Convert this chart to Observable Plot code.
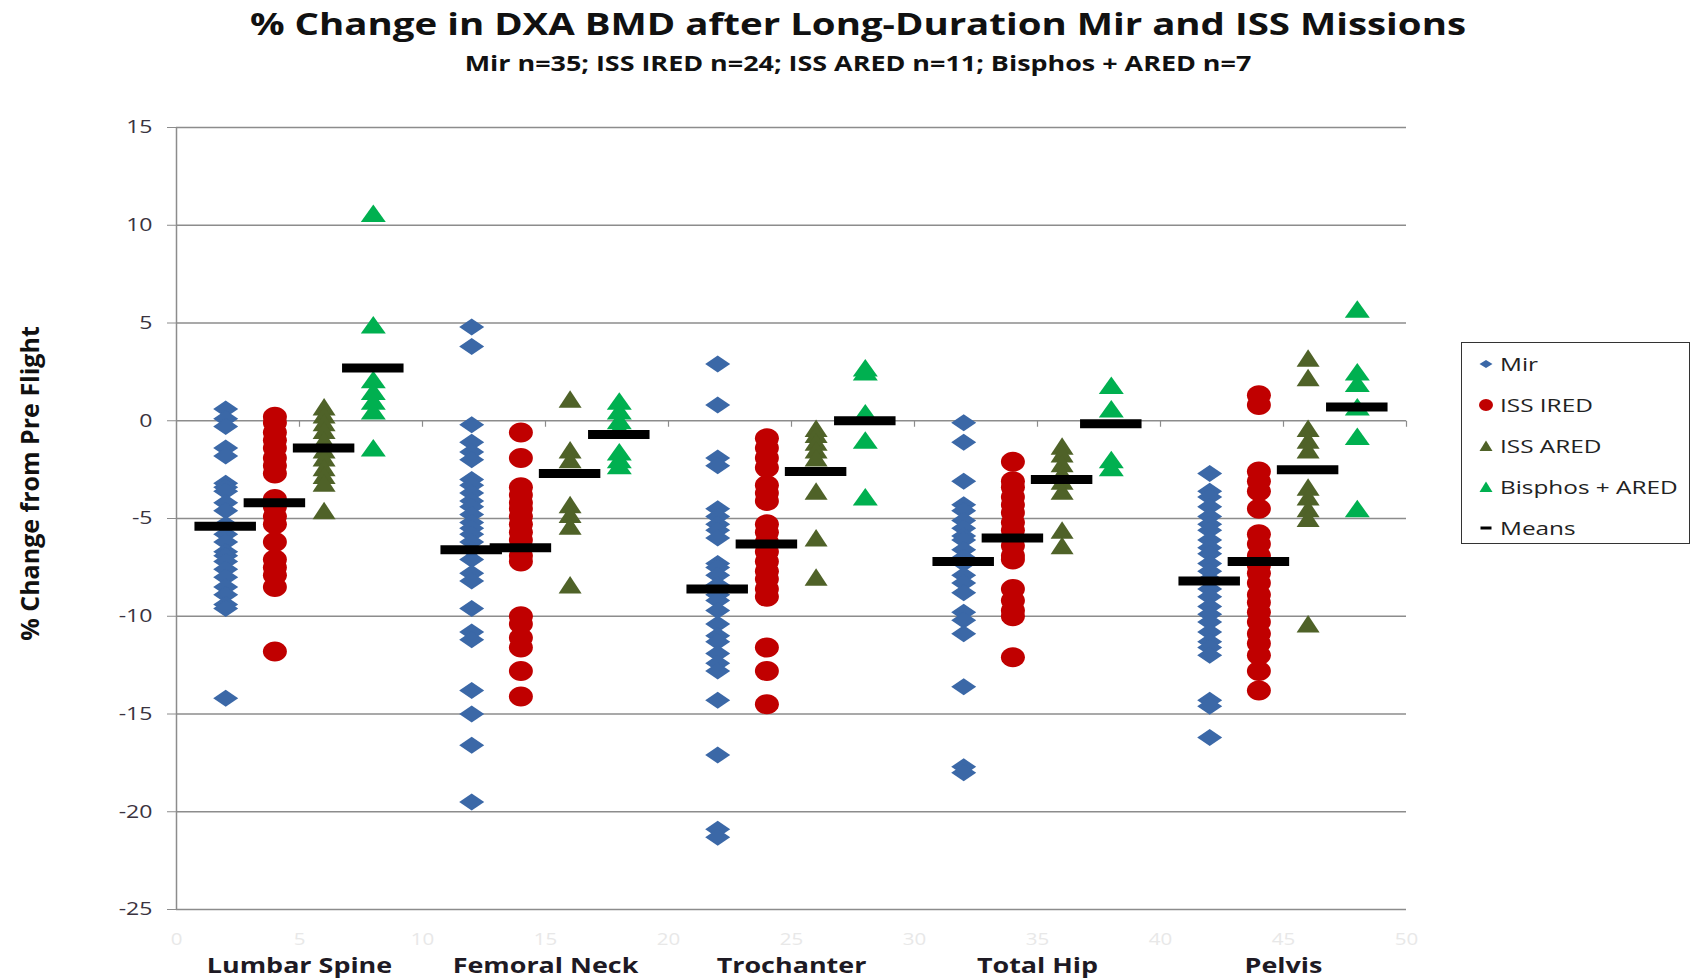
<!DOCTYPE html>
<html>
<head>
<meta charset="utf-8">
<script src="https://cdn.jsdelivr.net/npm/d3@7"></script>
<script src="https://cdn.jsdelivr.net/npm/@observablehq/plot@0.6"></script>
<style>
  html, body { margin: 0; padding: 0; background: #fff; overflow: hidden; }
  #wrap { position: relative; width: 1693px; height: 979px; font-family: "Open Sans", "DejaVu Sans", sans-serif; color: #111; }
  #head { position: relative; height: 90px; }
  .ctr { position: absolute; white-space: nowrap; transform-origin: center center; line-height: 1; }
  #title { left: 858px; top: 24px; font-size: 30px; font-weight: 700; }
  #subtitle { left: 858px; top: 63px; font-size: 21px; font-weight: 700; }
  #legend { position: absolute; left: 1461px; top: 342px; width: 229px; height: 202px; border: 1.5px solid #333; background: #fff; box-sizing: border-box; }
  .lrow { position: absolute; left: 0; height: 20px; width: 100%; }
  .lrow svg { position: absolute; left: 14px; top: 0; }
  .lrow .lt { position: absolute; left: 38px; top: 50%; font-size: 19px; color: #222; white-space: nowrap; transform-origin: left center; line-height: 1; }
</style>
</head>
<body>
<div id="wrap">
  <div id="head">
    <div id="title" class="ctr">% Change in DXA BMD after Long-Duration Mir and ISS Missions</div>
    <div id="subtitle" class="ctr">Mir n=35; ISS IRED n=24; ISS ARED n=11; Bisphos + ARED n=7</div>
  </div>
  <div id="chart"></div>
  <div id="legend"></div>
</div>
<script>
// ---------------- data ----------------
const sites = ["Lumbar Spine", "Femoral Neck", "Trochanter", "Total Hip", "Pelvis"];
const groups = ["Mir", "ISS IRED", "ISS ARED", "Bisphos + ARED"];
const xTicks = [0, 5, 10, 15, 20, 25, 30, 35, 40, 45, 50];
const yTicks = [-25, -20, -15, -10, -5, 0, 5, 10, 15];

// % change per site (Lumbar Spine, Femoral Neck, Trochanter, Total Hip, Pelvis)
const mirValues = [
  [0.6, 0.1, -0.3, -1.4, -1.8, -3.2, -3.4, -3.6, -4.2, -4.6, -5.3, -5.8, -6.2, -6.7, -6.9, -7.2, -7.6, -8.0, -8.5, -8.9, -9.4, -9.6, -14.2],
  [4.8, 3.8, -0.2, -1.1, -1.6, -2.0, -3.0, -3.3, -3.7, -4.1, -4.4, -4.8, -5.2, -5.5, -5.8, -6.2, -6.6, -7.1, -7.8, -8.2, -9.6, -10.8, -11.2, -13.8, -15.0, -16.6, -19.5],
  [2.9, 0.8, -1.9, -2.3, -4.5, -4.9, -5.3, -5.6, -6.0, -7.3, -7.5, -7.9, -8.4, -8.9, -9.2, -9.7, -10.4, -11.0, -11.3, -11.9, -12.4, -12.8, -14.3, -17.1, -20.9, -21.3],
  [-0.1, -1.1, -3.1, -4.3, -4.6, -5.1, -5.5, -5.9, -6.1, -6.6, -7.0, -7.3, -7.9, -8.3, -8.8, -9.8, -10.2, -10.9, -13.6, -17.7, -18.0],
  [-2.7, -3.6, -3.9, -4.4, -4.9, -5.3, -5.6, -6.1, -6.5, -6.8, -7.3, -7.7, -8.1, -8.6, -9.0, -9.5, -9.9, -10.3, -10.8, -11.3, -11.6, -12.0, -14.3, -14.6, -16.2]
];
const iredValues = [
  [0.2, -0.1, -0.6, -1.0, -1.4, -1.9, -2.3, -2.7, -4.0, -4.4, -4.9, -5.3, -6.2, -7.1, -7.5, -7.9, -8.5, -11.8],
  [-0.6, -1.9, -3.4, -3.8, -4.2, -4.5, -4.9, -5.3, -5.7, -6.1, -6.5, -6.9, -7.2, -10.0, -10.4, -11.1, -11.6, -12.8, -14.1],
  [-0.9, -1.4, -1.9, -2.4, -3.3, -3.7, -4.1, -5.3, -5.7, -6.2, -6.7, -7.2, -7.7, -8.1, -8.6, -9.0, -11.6, -12.8, -14.5],
  [-2.1, -3.1, -3.4, -3.9, -4.3, -4.7, -5.2, -5.6, -6.0, -6.4, -6.9, -7.1, -8.6, -9.2, -9.7, -10.0, -12.1],
  [1.3, 0.8, -2.6, -3.1, -3.6, -4.5, -5.8, -6.3, -6.9, -7.4, -7.8, -8.3, -8.9, -9.3, -9.8, -10.3, -10.9, -11.4, -12.0, -12.8, -13.8]
];
const aredValues = [
  [0.7, 0.3, -0.1, -0.5, -1.0, -1.5, -1.9, -2.4, -2.8, -3.2, -4.6],
  [1.1, -1.5, -2.0, -4.3, -4.8, -5.4, -8.4],
  [-0.4, -0.7, -1.1, -1.5, -1.9, -3.6, -6.0, -8.0],
  [-1.3, -1.7, -2.2, -2.7, -3.1, -3.6, -5.6, -6.4],
  [3.2, 2.2, -0.4, -1.0, -1.5, -3.4, -3.9, -4.5, -5.0, -10.4]
];
const bisphosValues = [
  [10.6, 4.9, 2.1, 1.5, 1.0, 0.5, -1.4],
  [1.0, 0.5, 0.0, -0.4, -1.6, -2.0, -2.3],
  [2.7, 2.5, 0.4, -1.0, -3.9],
  [1.8, 0.6, -2.0, -2.4],
  [5.7, 2.5, 1.9, 0.7, -0.8, -4.5]
];
// group means per site
const mirMeans = [-5.4, -6.6, -8.6, -7.2, -8.2];
const iredMeans = [-4.2, -6.5, -6.3, -6.0, -7.2];
const aredMeans = [-1.4, -2.7, -2.6, -3.0, -2.5];
const bisphosMeans = [2.7, -0.7, 0.0, -0.15, 0.7];

// ---------------- styling ----------------
const colors = ["#3b68a7", "#c00000", "#4f6228", "#00b050"];
const groupValues = [mirValues, iredValues, aredValues, bisphosValues];
const groupMeans = [mirMeans, iredMeans, aredMeans, bisphosMeans];

// x position of a group column inside a site (Excel x axis 0..50)
const colX = (s, g) => s * 10 + 2 + 2 * g;

const points = [];
groupValues.forEach((gv, g) => gv.forEach((vals, s) => vals.forEach(v => points.push({group: groups[g], g, site: sites[s], x: colX(s, g), v}))));
const means = [];
groupMeans.forEach((gm, g) => gm.forEach((v, s) => means.push({group: groups[g], g, site: sites[s], x: colX(s, g), v})));

// custom marker shapes (slightly wider than tall, as in the reference)
const wideDiamond = {draw(c) { c.moveTo(0, -8.5); c.lineTo(12.5, 0); c.lineTo(0, 8.5); c.lineTo(-12.5, 0); c.closePath(); }};
const ellipse = {draw(c) {
  const rx = 12, ry = 10, k = 0.5523;
  c.moveTo(rx, 0);
  c.bezierCurveTo(rx, ry * k, rx * k, ry, 0, ry);
  c.bezierCurveTo(-rx * k, ry, -rx, ry * k, -rx, 0);
  c.bezierCurveTo(-rx, -ry * k, -rx * k, -ry, 0, -ry);
  c.bezierCurveTo(rx * k, -ry, rx, -ry * k, rx, 0);
  c.closePath();
}};
const triangle = (w) => ({draw(c) { c.moveTo(0, -9); c.lineTo(w, 8.5); c.lineTo(-w, 8.5); c.closePath(); }});
const symbols = [wideDiamond, ellipse, triangle(11.5), triangle(12.5)];
const tickSym = {draw(c) { c.moveTo(0, 0); c.lineTo(0, 6); }};

const grid = "#8c8c8c";

const chart = Plot.plot({
  width: 1693,
  height: 889,
  marginLeft: 176,
  marginRight: 287,
  marginTop: 37,
  marginBottom: 70,
  x: {domain: [0, 50]},
  y: {domain: [-25, 15]},
  style: {fontFamily: "'Open Sans', sans-serif", background: "#fff", overflow: "visible"},
  marks: [
    Plot.gridY(yTicks, {stroke: grid, strokeOpacity: 1, strokeWidth: 1.3}),
    Plot.ruleX([0], {stroke: grid, strokeWidth: 1.5}),
    Plot.dot(xTicks.filter(d => d > 0), {x: d => d, y: () => 0, symbol: tickSym, stroke: grid, fill: "none", strokeWidth: 1.2}),
    Plot.axisY(yTicks, {tickSize: 9, tickPadding: 15, fontSize: 18, fill: "#3a3340", stroke: grid, tickFormat: d => String(d), label: null}),
    Plot.axisX(xTicks, {tickSize: 0, tickPadding: 24, fontSize: 16, fill: "#e8e8e8", tickFormat: d => String(d), label: null}),
    ...groups.map((name, g) => Plot.dot(points.filter(p => p.g === g), {x: "x", y: "v", symbol: symbols[g], fill: colors[g], stroke: "none", r: 8})),
    Plot.ruleY(means, {y: "v", x1: d => d.x - 1.25, x2: d => d.x + 1.25, stroke: "#000", strokeWidth: 9}),
    Plot.text(sites, {x: (d, i) => i * 10 + 5, frameAnchor: "bottom", dy: 63, fontSize: 21, fontWeight: 700, fill: "#1e1a24"}),
    Plot.text(["% Change from Pre Flight"], {frameAnchor: "left", textAnchor: "middle", rotate: -90, dx: -146, dy: -35, fontSize: 25, fontWeight: 700, fill: "#111"})
  ]
});
document.getElementById("chart").append(chart);

// ---------------- legend ----------------
const legendItems = [
  {label: "Mir", svg: `<path d="M0,-4L6.5,0L0,4L-6.5,0Z" fill="${colors[0]}"/>`},
  {label: "ISS IRED", svg: `<ellipse cx="0" cy="0" rx="7" ry="6" fill="${colors[1]}"/>`},
  {label: "ISS ARED", svg: `<path d="M0,-5.5L6.5,5L-6.5,5Z" fill="${colors[2]}"/>`},
  {label: "Bisphos + ARED", svg: `<path d="M0,-5.5L6.5,5L-6.5,5Z" fill="${colors[3]}"/>`},
  {label: "Means", svg: `<rect x="-5.5" y="-1.5" width="11" height="3" fill="#000"/>`}
];
const legend = document.getElementById("legend");
legendItems.forEach((it, i) => {
  const row = document.createElement("div");
  row.className = "lrow";
  row.style.top = (11 + i * 41) + "px";
  row.innerHTML = `<svg width="20" height="20" viewBox="-10 -10 20 20">${it.svg}</svg><span class="lt">${it.label}</span>`;
  legend.append(row);
});

// ---------------- horizontal stretch to match the (wide) reference lettering ----------------
const title = document.getElementById("title");
const S = 1216 / title.getBoundingClientRect().width;
for (const id of ["title", "subtitle"]) {
  document.getElementById(id).style.transform = `translate(-50%, -50%) scaleX(${S})`;
}
for (const el of document.querySelectorAll(".lt")) el.style.transform = `translateY(-50%) scaleX(${S})`;
for (const t of chart.querySelectorAll("text")) {
  const tr = t.getAttribute("transform") || "";
  if (tr.includes("rotate")) continue;
  const len = t.getComputedTextLength();
  if (len > 0) {
    t.setAttribute("textLength", len * S);
    t.setAttribute("lengthAdjust", "spacingAndGlyphs");
  }
}
</script>
</body>
</html>
